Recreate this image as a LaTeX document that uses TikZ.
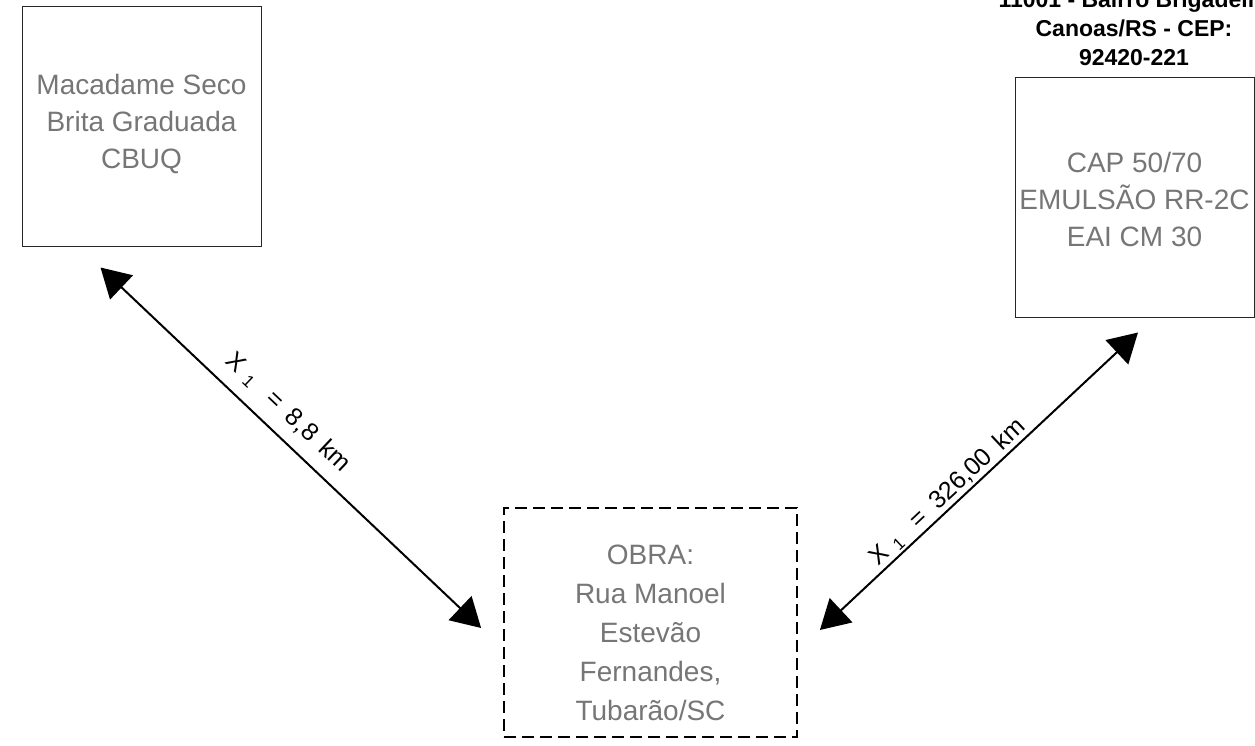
\documentclass[tikz,border=0pt]{standalone}
\usepackage{fontspec}
\setmainfont{Liberation Sans}
\usetikzlibrary{arrows.meta,calc}
\definecolor{txtgray}{RGB}{118,118,118}
\begin{document}
\begin{tikzpicture}[x=1pt,y=-1pt,
  box/.style={draw=black!85, line width=1pt, minimum width=239pt, minimum height=239pt, inner sep=0pt},
  obrabox/.style={draw=black, line width=1.8pt, dash pattern=on 12pt off 6pt, minimum width=293pt, minimum height=229pt, inner sep=0pt},
  graytxt/.style={text=txtgray, align=center, font=\fontsize{28}{37}\selectfont},
  addrtxt/.style={text=black, align=center, font=\bfseries\fontsize{23}{29}\selectfont},
  arr/.style={line width=2pt, {Triangle[length=29pt,width=33pt]}-{Triangle[length=29pt,width=33pt]}},
  dist/.style={font=\fontsize{25}{25}\selectfont, text=black, sloped, inner sep=0pt}
]
\useasboundingbox (0,0) rectangle (1255,746);
% boxes
\node[box] (lbox) at (141.5,126.5) {};
\node[graytxt] (ltxt) at (141.5,124.5) {Macadame Seco\\Brita Graduada\\CBUQ};
\node[box] (rbox) at (1134.5,197.5) {};
\node[graytxt] (rtxt) at (1134.5,199.5) {CAP 50/70\\EMULSÃO RR-2C\\EAI CM 30};
\node[addrtxt] (addr) at (1134,28) {11001 - Bairro Brigadeira\\Canoas/RS - CEP:\\92420-221};
\node[obrabox] (obra) at (650.5,622.5) {};
\node[graytxt, font=\fontsize{28}{39}\selectfont] (otxt) at (650.5,633) {OBRA:\\Rua Manoel\\Estevão\\Fernandes,\\Tubarão/SC};
% arrow end points
\coordinate (l1) at ($(lbox.south west)+(79,21)$);
\coordinate (l2) at ($(obra.west)+(-22,5.5)$);
\coordinate (r1) at ($(rbox.south)+(3.5,15)$);
\coordinate (r2) at ($(obra.east)+(22,7.5)$);
% connectors
\draw[arr] (l1) -- node[dist, pos=0.45, above=12pt] {X\hspace{9pt}\raisebox{-3pt}{\fontsize{17}{17}\selectfont 1}\hspace{20pt}=\hspace{12pt}8,8\hspace{11pt}km} (l2);
\draw[arr] (r2) -- node[dist, pos=0.43, above=2pt] {X\hspace{9pt}\raisebox{-3pt}{\fontsize{17}{17}\selectfont 1}\hspace{20pt}=\hspace{12pt}326,00\hspace{11pt}km} (r1);
\end{tikzpicture}
\end{document}
